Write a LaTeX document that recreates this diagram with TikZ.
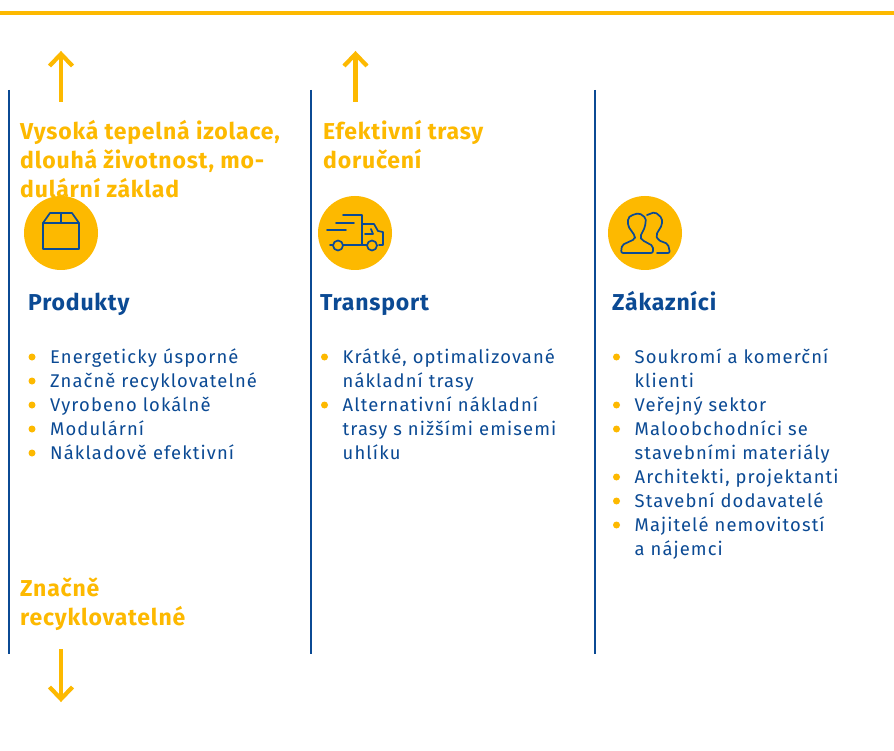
\documentclass[tikz,border=0pt]{standalone}
\usepackage{fontspec}
\setmainfont[LetterSpace=3.5]{Fira Sans}
\newfontfamily\bodyf[LetterSpace=6]{Fira Sans}
\definecolor{sun}{HTML}{FDB900}
\definecolor{navy}{HTML}{0B4A94}
\tikzset{
 x=1pt,y=-1pt,
 hl/.style={anchor=north west,inner sep=0pt,text=sun,font=\fontsize{23}{29}\selectfont\bfseries,align=left},
 ttl/.style={anchor=base west,inner sep=0pt,text=navy,font=\fontsize{23}{24}\selectfont\bfseries},
 item/.style={anchor=north west,inner sep=0pt,text=navy,font=\bodyf\fontsize{18.4}{24}\selectfont,align=left},
 dotm/.style={circle,fill=sun,inner sep=0pt,minimum size=7pt},
 rule/.style={draw=navy,line width=1.5pt},
 arr/.style={draw=sun,line width=4.2pt},
 badge/.style={circle,fill=sun,inner sep=0pt,minimum size=74pt},
 ico/.style={draw=navy,line width=1.7pt,line join=round,line cap=round},
}
\newcommand{\bull}[4]{\node[dotm] (#1d) at (#2,#3) {};\node[item] (#1) at (#2+18,#3-8.5) {#4};}
\begin{document}
\begin{tikzpicture}
\useasboundingbox (0,0) rectangle (894,751);
\fill[white] (0,0) rectangle (894,751);
\coordinate (tl) at (0,13); \coordinate (tr) at (894,13);
\draw[draw=sun,line width=4.6pt] (tl) -- (tr);
% rules
\foreach \n/\x in {a/9,b/311,c/595}{
 \coordinate (\n t) at (\x,90); \coordinate (\n b) at (\x,654);
 \draw[rule] (\n t) -- (\n b);
}
% arrows
\coordinate (u1a) at (61,102); \coordinate (u1b) at (61,54);
\coordinate (u1l) at (49.5,66); \coordinate (u1r) at (72.5,66);
\draw[arr] (u1a) -- (u1b); \draw[arr] (u1l) -- (u1b) -- (u1r);
\coordinate (u2a) at (355.5,102); \coordinate (u2b) at (355.5,54);
\coordinate (u2l) at (344,66); \coordinate (u2r) at (367,66);
\draw[arr] (u2a) -- (u2b); \draw[arr] (u2l) -- (u2b) -- (u2r);
\coordinate (d1a) at (61,649); \coordinate (d1b) at (61,699);
\coordinate (d1l) at (49.5,687); \coordinate (d1r) at (72.5,687);
\draw[arr] (d1a) -- (d1b); \draw[arr] (d1l) -- (d1b) -- (d1r);
% highlighted text
\node[hl] (h1) at (20,120) {Vysoká tepelná izolace,\\dlouhá životnost, mo-\\dulární základ};
\node[hl] (h2) at (323,120) {Efektivní trasy\\doručení};
\node[hl] (h3) at (20,578) {Značně\\recyklovatelné};
% badges
\node[badge] (b1) at (61,233) {};
\node[badge] (b2) at (355,233) {};
\node[badge] (b3) at (645,233) {};
% box icon
\draw[ico] (43,223) rectangle (79,249);
\draw[ico] (43,223) -- (50,213) -- (72,213) -- (79,223);
\draw[ico] (61,213) -- (61,223);
% truck icon
\draw[ico] (343,215) -- (362,215) -- (362,245);
\draw[ico] (336,223) -- (354,223);
\draw[ico] (327,230) -- (346,230);
\draw[ico] (330,245) -- (333,245);
\draw[ico] (343,245) -- (367,245);
\draw[ico] (379,245) -- (383,245) -- (383,232) -- (378,231) -- (374,224) -- (362,224);
\draw[ico] (365,234) -- (373,234) -- (371,229);
\draw[ico] (338,245.5) circle (5);
\draw[ico] (372,245.5) circle (5);
% people icon
\draw[ico,rounded corners=2pt] (621,253) -- (622,245) -- (635,239) -- (635,236) -- (628,226) -- (628,218) -- (631,215.5) -- (639,213) -- (646,218) -- (645,227) -- (640,237) -- (642,240) -- (653,246) -- (653,253) -- cycle;
\draw[ico,rounded corners=2pt] (647,215) -- (655,212) -- (662,218) -- (662,225) -- (656,235) -- (658,240) -- (668,244) -- (670,253) -- (657,253);
% titles
\node[ttl] (t1) at (28,310) {Produkty};
\node[ttl] (t2) at (320,310) {Transport};
\node[ttl] (t3) at (612,310) {Zákazníci};
% lists
\bull{p1}{32}{357}{Energeticky úsporné}
\bull{p2}{32}{381}{Značně recyklovatelné}
\bull{p3}{32}{405}{Vyrobeno lokálně}
\bull{p4}{32}{429}{Modulární}
\bull{p5}{32}{453}{Nákladově efektivní}
\bull{q1}{324.5}{357}{Krátké, optimalizované\\nákladní trasy}
\bull{q2}{324.5}{405}{Alternativní nákladní\\trasy s nižšími emisemi\\uhlíku}
\bull{r1}{616.5}{357}{Soukromí a komerční\\klienti}
\bull{r2}{616.5}{405}{Veřejný sektor}
\bull{r3}{616.5}{429}{Maloobchodníci se\\stavebními materiály}
\bull{r4}{616.5}{477}{Architekti, projektanti}
\bull{r5}{616.5}{501}{Stavební dodavatelé}
\bull{r6}{616.5}{525}{Majitelé nemovitostí\\a nájemci}
\end{tikzpicture}
\end{document}
